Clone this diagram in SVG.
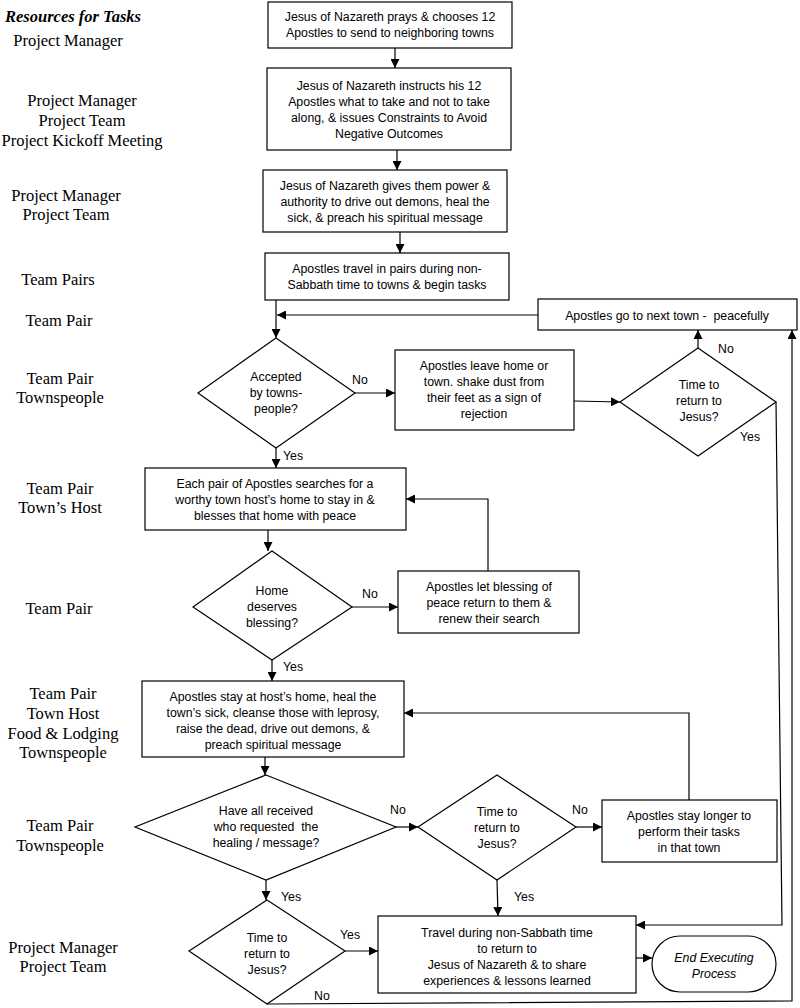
<svg xmlns="http://www.w3.org/2000/svg" width="800" height="1008" viewBox="0 0 800 1008">
<style>
.bg{fill:#fff}
.box{fill:#fff;stroke:#000;stroke-width:1.2}
.t{font-family:"Liberation Sans",Arial,sans-serif;font-size:12.3px;text-anchor:middle;fill:#000;white-space:pre}
.ti{font-family:"Liberation Sans",Arial,sans-serif;font-size:12.3px;text-anchor:middle;font-style:italic;fill:#000}
.lb{font-family:"Liberation Sans",Arial,sans-serif;font-size:12.3px;fill:#000}
.r{font-family:"Liberation Serif","Times New Roman",serif;font-size:16.5px;text-anchor:middle;fill:#000}
.h{font-family:"Liberation Serif","Times New Roman",serif;font-size:16.5px;font-weight:bold;font-style:italic;fill:#000}
.c{fill:none;stroke:#000;stroke-width:1.2}
</style>
<defs>
<marker id="ar" viewBox="0 0 10 10" refX="10" refY="5" markerWidth="9" markerHeight="9" markerUnits="userSpaceOnUse" orient="auto">
<path d="M0,0 L10,5 L0,10 z" fill="#000"/>
</marker>
</defs>
<rect class="bg" x="0" y="0" width="800" height="1008"/>

<g id="resources">
<text class="h" x="5" y="22">Resources for Tasks</text>
<text class="r" x="68" y="46">Project Manager</text>
<text class="r" x="82" y="106">Project Manager</text>
<text class="r" x="82" y="126">Project Team</text>
<text class="r" x="82" y="146">Project Kickoff Meeting</text>
<text class="r" x="66" y="201">Project Manager</text>
<text class="r" x="66" y="220">Project Team</text>
<text class="r" x="58" y="285">Team Pairs</text>
<text class="r" x="59" y="326">Team Pair</text>
<text class="r" x="60" y="384">Team Pair</text>
<text class="r" x="60" y="403">Townspeople</text>
<text class="r" x="60" y="494">Team Pair</text>
<text class="r" x="60" y="513">Town’s Host</text>
<text class="r" x="59" y="614">Team Pair</text>
<text class="r" x="63" y="699">Team Pair</text>
<text class="r" x="63" y="719">Town Host</text>
<text class="r" x="63" y="739">Food &amp; Lodging</text>
<text class="r" x="63" y="758">Townspeople</text>
<text class="r" x="60" y="831">Team Pair</text>
<text class="r" x="60" y="851">Townspeople</text>
<text class="r" x="63" y="953">Project Manager</text>
<text class="r" x="63" y="972">Project Team</text>
</g>

<g id="connectors">
<line class="c" x1="395" y1="48" x2="395" y2="68" marker-end="url(#ar)"/>
<line class="c" x1="397" y1="150" x2="397" y2="170" marker-end="url(#ar)"/>
<line class="c" x1="400" y1="232" x2="400" y2="253" marker-end="url(#ar)"/>
<line class="c" x1="276" y1="300" x2="276" y2="338" marker-end="url(#ar)"/>
<line class="c" x1="538" y1="315" x2="277" y2="315" marker-end="url(#ar)"/>
<line class="c" x1="355" y1="393" x2="395" y2="393" marker-end="url(#ar)"/>
<line class="c" x1="574" y1="401" x2="620" y2="402" marker-end="url(#ar)"/>
<line class="c" x1="698" y1="348" x2="698" y2="330" marker-end="url(#ar)"/>
<polyline class="c" points="776,402 782,925 636,925" marker-end="url(#ar)"/>
<line class="c" x1="276" y1="448" x2="276" y2="468" marker-end="url(#ar)"/>
<line class="c" x1="268" y1="530" x2="268" y2="551" marker-end="url(#ar)"/>
<line class="c" x1="352" y1="607" x2="398" y2="607" marker-end="url(#ar)"/>
<polyline class="c" points="488,571 488,499 406,499" marker-end="url(#ar)"/>
<line class="c" x1="272" y1="660" x2="272" y2="681" marker-end="url(#ar)"/>
<polyline class="c" points="689,800 689,713 404,713" marker-end="url(#ar)"/>
<line class="c" x1="265" y1="757" x2="265" y2="775" marker-end="url(#ar)"/>
<line class="c" x1="396" y1="827" x2="418" y2="827" marker-end="url(#ar)"/>
<line class="c" x1="576" y1="827" x2="602" y2="827" marker-end="url(#ar)"/>
<line class="c" x1="497" y1="880" x2="498" y2="916" marker-end="url(#ar)"/>
<line class="c" x1="266" y1="880" x2="266" y2="900" marker-end="url(#ar)"/>
<line class="c" x1="345" y1="951" x2="378" y2="951" marker-end="url(#ar)"/>
<line class="c" x1="636" y1="958" x2="652" y2="958" marker-end="url(#ar)"/>
<polyline class="c" points="267,1004 792,1001 792,330" marker-end="url(#ar)"/>
<text class="lb" x="352" y="384">No</text>
<text class="lb" x="718" y="353">No</text>
<text class="lb" x="740" y="441">Yes</text>
<text class="lb" x="283" y="460">Yes</text>
<text class="lb" x="362" y="598">No</text>
<text class="lb" x="283" y="671">Yes</text>
<text class="lb" x="390" y="814">No</text>
<text class="lb" x="572" y="814">No</text>
<text class="lb" x="514" y="901">Yes</text>
<text class="lb" x="281" y="901">Yes</text>
<text class="lb" x="340" y="939">Yes</text>
<text class="lb" x="314" y="1000">No</text>
</g>

<g id="n1">
<rect class="box" x="268" y="2" width="244" height="46"/>
<text class="t" x="390" y="21">Jesus of Nazareth prays &amp; chooses 12</text>
<text class="t" x="390" y="37">Apostles to send to neighboring towns</text>
</g>
<g id="n2">
<rect class="box" x="267" y="68" width="244" height="82"/>
<text class="t" x="389" y="90">Jesus of Nazareth instructs his 12</text>
<text class="t" x="389" y="106">Apostles what to take and not to take</text>
<text class="t" x="389" y="122">along, &amp; issues Constraints to Avoid</text>
<text class="t" x="389" y="138">Negative Outcomes</text>
</g>
<g id="n3">
<rect class="box" x="263" y="170" width="244" height="62"/>
<text class="t" x="385" y="190">Jesus of Nazareth gives them power &amp;</text>
<text class="t" x="385" y="206">authority to drive out demons, heal the</text>
<text class="t" x="385" y="222">sick, &amp; preach his spiritual message</text>
</g>
<g id="n4">
<rect class="box" x="265" y="253" width="244" height="47"/>
<text class="t" x="387" y="273">Apostles travel in pairs during non-</text>
<text class="t" x="387" y="289">Sabbath time to towns &amp; begin tasks</text>
</g>
<g id="n5">
<rect class="box" x="538" y="299" width="259" height="31"/>
<text class="t" x="667" y="320">Apostles go to next town -  peacefully</text>
</g>
<g id="d1">
<polygon class="box" points="276,338 355,393 276,448 198,393"/>
<text class="t" x="276" y="381">Accepted</text>
<text class="t" x="276" y="397">by towns-</text>
<text class="t" x="276" y="413">people?</text>
</g>
<g id="n6">
<rect class="box" x="395" y="350" width="179" height="80"/>
<text class="t" x="484" y="370">Apostles leave home or</text>
<text class="t" x="484" y="386">town. shake dust from</text>
<text class="t" x="484" y="402">their feet as a sign of</text>
<text class="t" x="484" y="418">rejection</text>
</g>
<g id="d2">
<polygon class="box" points="698,348 776,402 698,456 620,402"/>
<text class="t" x="699" y="389">Time to</text>
<text class="t" x="699" y="405">return to</text>
<text class="t" x="699" y="421">Jesus?</text>
</g>
<g id="n7">
<rect class="box" x="145" y="468" width="261" height="62"/>
<text class="t" x="275" y="488">Each pair of Apostles searches for a</text>
<text class="t" x="275" y="504">worthy town host’s home to stay in &amp;</text>
<text class="t" x="275" y="520">blesses that home with peace</text>
</g>
<g id="d3">
<polygon class="box" points="272,551 352,607 272,660 193,607"/>
<text class="t" x="272" y="595">Home</text>
<text class="t" x="272" y="611">deserves</text>
<text class="t" x="272" y="627">blessing?</text>
</g>
<g id="n8">
<rect class="box" x="398" y="571" width="181" height="62"/>
<text class="t" x="489" y="591">Apostles let blessing of</text>
<text class="t" x="489" y="607">peace return to them &amp;</text>
<text class="t" x="489" y="623">renew their search</text>
</g>
<g id="n9">
<rect class="box" x="142" y="681" width="262" height="76"/>
<text class="t" x="273" y="701">Apostles stay at host’s home, heal the</text>
<text class="t" x="273" y="717">town’s sick, cleanse those with leprosy,</text>
<text class="t" x="273" y="733">raise the dead, drive out demons, &amp;</text>
<text class="t" x="273" y="749">preach spiritual message</text>
</g>
<g id="d4">
<polygon class="box" points="266,775 396,827 266,880 135,827"/>
<text class="t" x="266" y="815">Have all received</text>
<text class="t" x="266" y="831">who requested  the</text>
<text class="t" x="266" y="847">healing / message?</text>
</g>
<g id="d5">
<polygon class="box" points="497,775 576,827 497,880 418,827"/>
<text class="t" x="497" y="816">Time to</text>
<text class="t" x="497" y="832">return to</text>
<text class="t" x="497" y="848">Jesus?</text>
</g>
<g id="n10">
<rect class="box" x="602" y="800" width="175" height="62"/>
<text class="t" x="689" y="820">Apostles stay longer to</text>
<text class="t" x="689" y="836">perform their tasks</text>
<text class="t" x="689" y="852">in that town</text>
</g>
<g id="d6">
<polygon class="box" points="267,900 345,951 267,1004 189,951"/>
<text class="t" x="267" y="942">Time to</text>
<text class="t" x="267" y="958">return to</text>
<text class="t" x="267" y="974">Jesus?</text>
</g>
<g id="n11">
<rect class="box" x="378" y="916" width="258" height="77"/>
<text class="t" x="507" y="937">Travel during non-Sabbath time</text>
<text class="t" x="507" y="953">to return to</text>
<text class="t" x="507" y="969">Jesus of Nazareth &amp; to share</text>
<text class="t" x="507" y="985">experiences &amp; lessons learned</text>
</g>
<g id="end">
<rect class="box" x="652" y="936" width="124" height="56" rx="28" ry="28"/>
<text class="ti" x="714" y="962">End Executing</text>
<text class="ti" x="714" y="978">Process</text>
</g>
</svg>
